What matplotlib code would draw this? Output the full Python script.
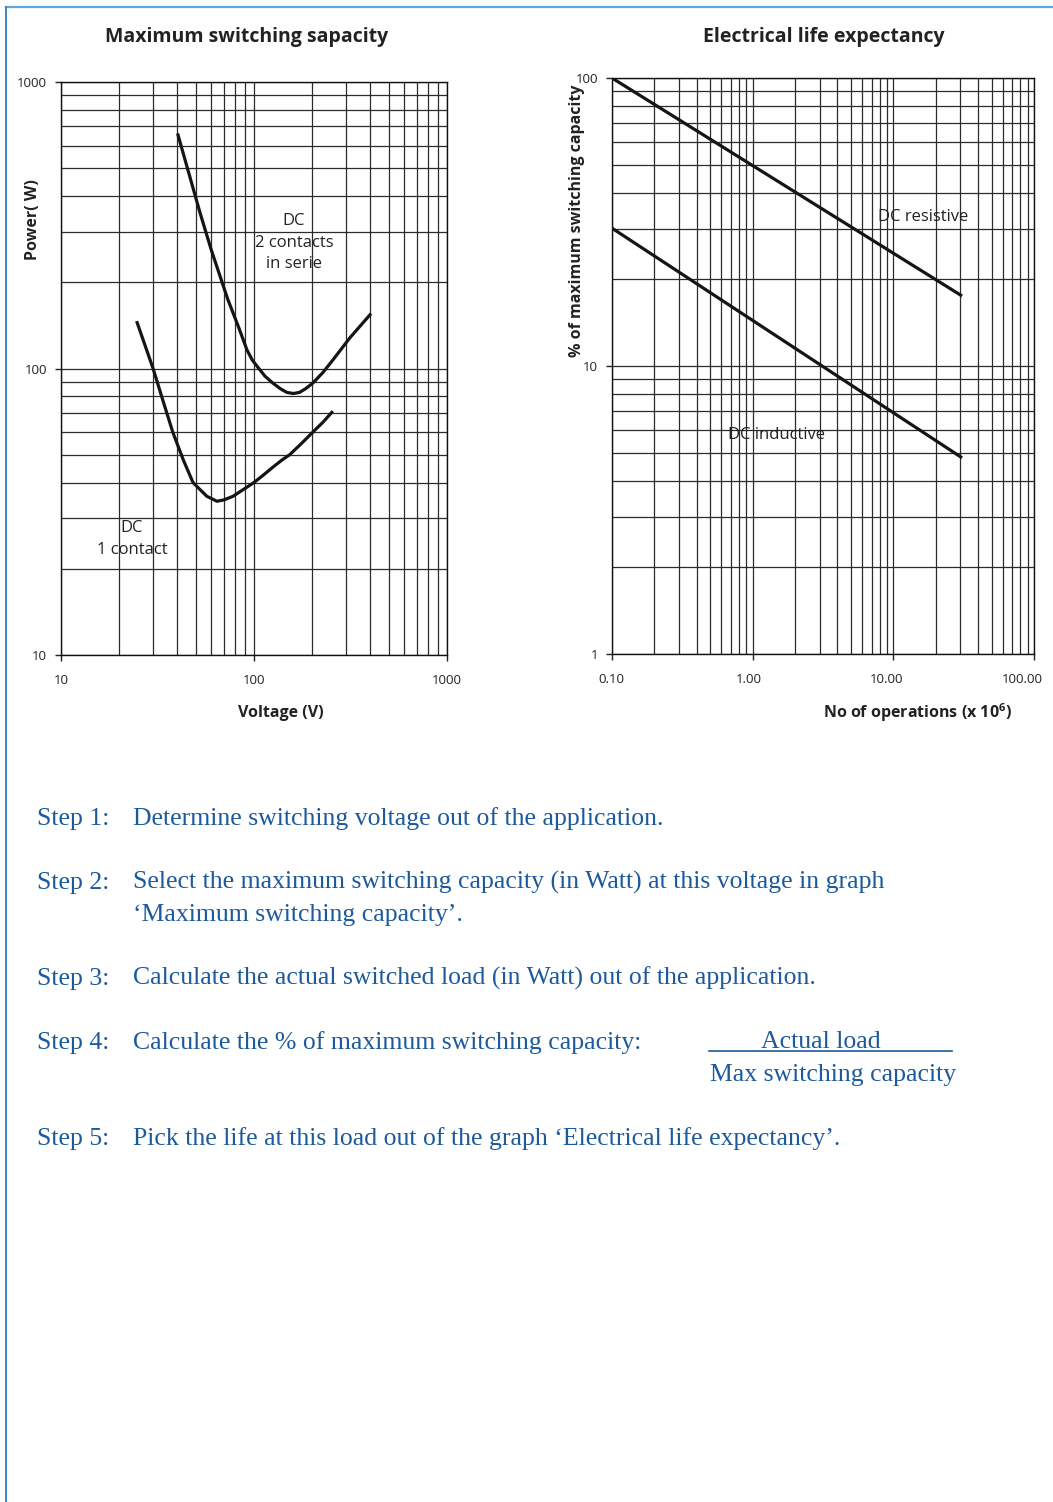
import numpy as np
import matplotlib
matplotlib.use("Agg")
import matplotlib.pyplot as plt
import matplotlib.transforms as mtransforms
from matplotlib.ticker import LogLocator, FixedLocator, FixedFormatter, NullFormatter
from matplotlib.lines import Line2D

plt.rcParams['font.family'] = ['Open Sans', 'DejaVu Sans']
plt.rcParams['mathtext.fontset'] = 'custom'
plt.rcParams['mathtext.rm'] = 'Open Sans'
plt.rcParams['mathtext.bf'] = 'Open Sans:bold'

# --- data ---
# Maximum switching sapacity (Voltage V -> Power W)
v_two = [40.4, 52.5, 60, 73, 83, 92, 98, 104, 114, 125, 137, 148, 160, 172, 185, 202, 228, 256, 314, 399]
p_two = [653, 350, 260, 175, 140, 116, 107, 101.6, 94, 89, 85, 82.5, 81.8, 82.5, 85, 89, 97, 107, 128, 154]
v_one = [24.8, 30, 34, 38, 43, 48.3, 52.5, 57, 64.3, 70, 77.8, 88, 100, 112, 125, 140, 153, 175, 202, 228, 253]
p_one = [144.6, 100, 76, 59.8, 48, 40, 37.8, 35.8, 34.4, 34.8, 35.8, 37.8, 40, 42.5, 45.2, 48, 50, 54.5, 60, 65, 70.3]

# Electrical life expectancy (operations x1e6 -> % of max capacity)
ops_res = [0.1, 30.8]
pct_res = [100, 17.5]
ops_ind = [0.1, 30.8]
pct_ind = [30.1, 4.8]

volt_ticks = [10, 100, 1000]
power_ticks = [10, 100, 1000]
ops_ticks = [0.1, 1, 10, 100]
ops_labels = ['0.10', '1.00', '10.00', '100.00']
pct_ticks = [1, 10, 100]

step_labels = ["Step 1:", "Step 2:", "Step 3:", "Step 4:", "Step 5:"]
step_lines = [
    ["Determine switching voltage out of the application."],
    ["Select the maximum switching capacity (in Watt) at this voltage in graph",
     "\u2018Maximum switching capacity\u2019."],
    ["Calculate the actual switched load (in Watt) out of the application."],
    ["Calculate the % of maximum switching capacity:"],
    ["Pick the life at this load out of the graph \u2018Electrical life expectancy\u2019."],
]
step_base = [825, 889, 985, 1049, 1145]

W, H = 1053, 1502
fig = plt.figure(figsize=(W / 100, H / 100), dpi=100)


def fx(x):
    return x / W


def fy(y):
    return 1 - y / H


grid_col = '#2b2b2b'
txt_col = '#222222'
blue = '#1c5a9c'
serif = 'Liberation Serif'
sfs = 18.5


def style_log(ax):
    ax.set_xscale('log')
    ax.set_yscale('log')
    ax.xaxis.set_minor_locator(LogLocator(base=10, subs=np.arange(2, 10)))
    ax.yaxis.set_minor_locator(LogLocator(base=10, subs=np.arange(2, 10)))
    ax.xaxis.set_minor_formatter(NullFormatter())
    ax.yaxis.set_minor_formatter(NullFormatter())
    ax.grid(which='both', color=grid_col, lw=0.9)
    ax.tick_params(which='minor', length=0)
    ax.tick_params(which='major', length=4, width=1, labelsize=9.5, colors=txt_col)
    ax.tick_params(axis='x', pad=10)
    ax.tick_params(axis='y', pad=6)
    for s in ax.spines.values():
        s.set_color('#111111')
        s.set_linewidth(1.0)
    ax.set_axisbelow(True)


# left chart
ax1 = fig.add_axes([fx(61), fy(655), fx(447) - fx(61), fy(82) - fy(655)])
style_log(ax1)
ax1.set_xlim(10, 1000)
ax1.set_ylim(10, 1000)
ax1.xaxis.set_major_locator(FixedLocator(volt_ticks))
ax1.xaxis.set_major_formatter(FixedFormatter([str(t) for t in volt_ticks]))
ax1.yaxis.set_major_locator(FixedLocator(power_ticks))
ax1.yaxis.set_major_formatter(FixedFormatter([str(t) for t in power_ticks]))
ax1.plot(v_two, p_two, color='#151515', lw=2.3, solid_joinstyle='round')
ax1.plot(v_one, p_one, color='#151515', lw=2.3, solid_joinstyle='round')
ax1.text(161, 275, "DC\n2 contacts\nin serie", ha='center', va='center', fontsize=12,
         color=txt_col, linespacing=1.45)
ax1.text(23.3, 25.4, "DC\n1 contact", ha='center', va='center', fontsize=12,
         color=txt_col, linespacing=1.45)

# right chart
ax2 = fig.add_axes([fx(612), fy(654), fx(1034) - fx(612), fy(78) - fy(654)])
style_log(ax2)
ax2.set_xlim(0.1, 100)
ax2.set_ylim(1, 100)
ax2.xaxis.set_major_locator(FixedLocator(ops_ticks))
ax2.xaxis.set_major_formatter(FixedFormatter(ops_labels))
ax2.yaxis.set_major_locator(FixedLocator(pct_ticks))
ax2.yaxis.set_major_formatter(FixedFormatter([str(t) for t in pct_ticks]))
ax2.plot(ops_res, pct_res, color='#151515', lw=2.3, solid_capstyle='butt')
ax2.plot(ops_ind, pct_ind, color='#151515', lw=2.3, solid_capstyle='butt')
ax2.text(16.2, 32.9, "DC resistive", ha='center', va='center', fontsize=12, color=txt_col)
ax2.text(1.47, 5.76, "DC inductive", ha='center', va='center', fontsize=12, color=txt_col)

# the reference nudges the wider x labels to the left
fig.canvas.draw()
for lab, dx in zip(ax2.get_xticklabels(), [-1, -4, -7, -12]):
    lab.set_transform(lab.get_transform() + mtransforms.ScaledTranslation(dx / 100, 0, fig.dpi_scale_trans))

# titles and axis labels
fig.text(fx(247), fy(37), "Maximum switching sapacity", ha='center', va='center',
         fontsize=14, fontweight='bold', color=txt_col)
fig.text(fx(824), fy(37), "Electrical life expectancy", ha='center', va='center',
         fontsize=14, fontweight='bold', color=txt_col)
fig.text(fx(33), fy(220), "Power( W)", rotation=90, ha='center', va='center',
         fontsize=11.5, fontweight='bold', color=txt_col)
fig.text(fx(577), fy(221), "% of maximum switching capacity", rotation=90, ha='center',
         va='center', fontsize=11.5, fontweight='bold', color=txt_col)
fig.text(fx(281), fy(713), "Voltage (V)", ha='center', va='center',
         fontsize=11.5, fontweight='bold', color=txt_col)
fig.text(fx(918), fy(713), r"No of operations (x 10$^{\mathbf{6}}$)", ha='center', va='center',
         fontsize=11.5, fontweight='bold', color=txt_col)

# step instructions
for lab, lines, yb in zip(step_labels, step_lines, step_base):
    fig.text(fx(37), fy(yb), lab, ha='left', va='baseline', fontsize=sfs,
             family=serif, color=blue)
    for i, line in enumerate(lines):
        fig.text(fx(133), fy(yb + 32 * i), line, ha='left', va='baseline', fontsize=sfs,
                 family=serif, color=blue)

# fraction in step 4
fig.text(fx(821), fy(1048), "Actual load", ha='center', va='baseline', fontsize=sfs,
         family=serif, color=blue)
fig.text(fx(710), fy(1081), "Max switching capacity", ha='left', va='baseline', fontsize=sfs,
         family=serif, color=blue)
fig.add_artist(Line2D([fx(709), fx(952)], [fy(1051), fy(1051)], color=blue, lw=1.2))

# page frame
fig.add_artist(Line2D([fx(6), 1.0], [fy(7), fy(7)], color='#5ea8dc', lw=1.6))
fig.add_artist(Line2D([fx(6), fx(6)], [0.0, fy(7)], color='#3d85c6', lw=1.4))

fig.savefig('out.png', dpi=100)
